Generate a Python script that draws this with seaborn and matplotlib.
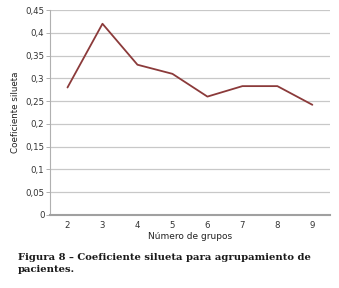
import numpy as np
import pandas as pd
import seaborn as sns
import matplotlib.pyplot as plt
from matplotlib.ticker import FuncFormatter, MultipleLocator

# Valores
grupos = [2, 3, 4, 5, 6, 7, 8, 9]
silueta = [0.28, 0.42, 0.33, 0.31, 0.26, 0.283, 0.283, 0.242]

data = pd.DataFrame({"grupos": grupos, "silueta": silueta})

sns.set_theme(style="white")
plt.rcParams['font.family'] = ['DejaVu Sans']

fig = plt.figure(figsize=(3.39, 2.88), dpi=100)
ax = fig.add_axes([0.1475, 0.2535, 0.8255, 0.7115])

sns.lineplot(data=data, x="grupos", y="silueta", color="#8b3a3a", linewidth=1.3, ax=ax)

ax.set_xlim(1.5, 9.5)
ax.set_ylim(0, 0.45)
ax.xaxis.set_major_locator(MultipleLocator(1))
ax.yaxis.set_major_locator(MultipleLocator(0.05))
ax.yaxis.set_major_formatter(FuncFormatter(lambda v, p: ("%g" % round(v, 2)).replace(".", ",")))
ax.grid(axis="y", color="#c8c8c8", linewidth=0.9)
ax.set_axisbelow(True)

for s in ["top", "right"]:
    ax.spines[s].set_visible(False)
ax.spines["left"].set_color("#b0b0b0")
ax.spines["left"].set_linewidth(0.8)
ax.spines["bottom"].set_color("#a0a0a0")
ax.spines["bottom"].set_linewidth(1.5)

ax.tick_params(axis="y", length=3, width=0.7, color="#b0b0b0", labelsize=6.2, labelcolor="#333333", pad=1, left=True)
ax.tick_params(axis="x", length=0, labelsize=6.2, labelcolor="#333333", pad=4)

ax.set_xlabel("Número de grupos", fontsize=6.5, color="#222222", labelpad=2)
ax.set_ylabel("Coeficiente silueta", fontsize=6.3, color="#222222")
ax.yaxis.set_label_coords(-0.107, 0.5)

fig.text(0.053, 0.085, "Figura 8 – Coeficiente silueta para agrupamiento de\npacientes.",
         fontsize=7.2, fontweight="bold", family=["DejaVu Serif"], color="#1a1a1a",
         va="center", ha="left", linespacing=1.4)

fig.savefig("out.png", dpi=100)
